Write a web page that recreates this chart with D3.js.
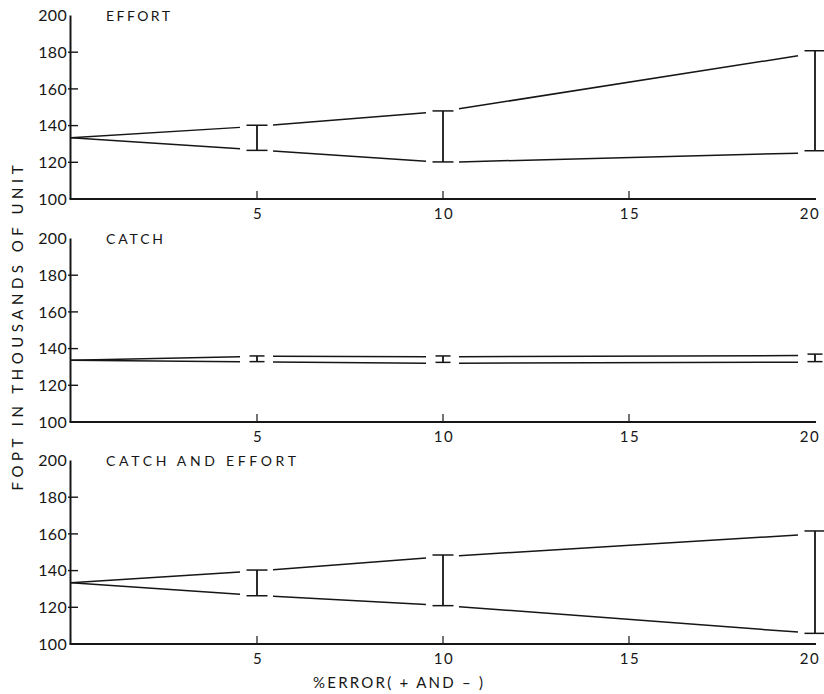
<!DOCTYPE html>
<html>
<head>
<meta charset="utf-8">
<script src="https://cdn.jsdelivr.net/npm/d3@7/dist/d3.min.js"></script>
<style>
  html, body { margin: 0; padding: 0; background: #fff; }
  svg { display: block; }
  text { font-family: Lato, "DejaVu Sans", sans-serif; fill: #161616; }
</style>
</head>
<body>
<svg id="chart" width="824" height="694"></svg>
<script>
// ---------------- data ----------------
const errorPct = [0, 5, 10, 20];            // % error (+ and -)
const xTicks = [5, 10, 15, 20];
const yTicks = [100, 120, 140, 160, 180, 200];
const panelTitles = ["EFFORT", "CATCH", "CATCH AND EFFORT"];

const effortUpper   = [133.4, 139.6, 147.8, 179.5];
const effortLower   = [133.4, 126.8, 120.0, 125.2];
const effortBarLow  = [null, 126.5, 120.2, 126.3];
const effortBarHigh = [null, 140.2, 148.0, 180.8];

const catchUpper    = [133.6, 135.8, 135.6, 136.2];
const catchLower    = [133.6, 132.8, 132.0, 132.6];
const catchBarLow   = [null, 132.9, 132.5, 132.9];
const catchBarHigh  = [null, 136.0, 136.0, 137.0];

const bothUpper     = [133.4, 139.8, 147.6, 160.0];
const bothLower     = [133.4, 126.5, 121.0, 105.8];
const bothBarLow    = [null, 126.3, 120.9, 105.8];
const bothBarHigh   = [null, 140.3, 148.5, 161.6];

const yLabel = "FOPT IN THOUSANDS OF UNIT";
const xLabel = "%ERROR( + AND \u2013 )";

// ---------------- layout ----------------
const svg = d3.select("#chart");
const ink = "#161616";
const x = d3.scaleLinear().domain([0, 20]).range([71, 815]);

const panels = [
  { title: panelTitles[0], base: 199, up: effortUpper, lo: effortLower, bl: effortBarLow, bh: effortBarHigh, cap: 21, titleLen: 64 },
  { title: panelTitles[1], base: 422, up: catchUpper,  lo: catchLower,  bl: catchBarLow,  bh: catchBarHigh,  cap: 15, titleLen: 57 },
  { title: panelTitles[2], base: 644, up: bothUpper,   lo: bothLower,   bl: bothBarLow,   bh: bothBarHigh,   cap: 21, titleLen: 190 }
];

panels.forEach(p => {
  const y = d3.scaleLinear().domain([100, 200]).range([p.base, p.base - 183.5]);
  const g = svg.append("g");

  // y axis line
  g.append("line")
    .attr("x1", x(0) - 0.5).attr("x2", x(0) - 0.5)
    .attr("y1", y(100)).attr("y2", y(200))
    .attr("stroke", ink).attr("stroke-width", 2);
  // x axis line
  g.append("line")
    .attr("x1", x(0) - 1.5).attr("x2", x(20) + 1)
    .attr("y1", y(100)).attr("y2", y(100))
    .attr("stroke", ink).attr("stroke-width", 2);

  // y tick labels
  const yAx = d3.axisLeft(y).tickValues(yTicks).tickSize(0).tickPadding(3).tickFormat(d3.format("d"));
  const ya = g.append("g").attr("transform", `translate(${x(0) - 1},0)`).call(yAx);
  ya.select(".domain").remove();
  ya.selectAll("text").style("font-size", "16px").attr("letter-spacing", "0.3px")
    .style("font-family", "Lato, 'DejaVu Sans', sans-serif").attr("fill", ink);
  // inner y ticks
  g.selectAll(".ytick").data(yTicks.filter(v => v > 100 && v < 200)).enter()
    .append("line")
    .attr("x1", x(0) - 3).attr("x2", x(0) + 7)
    .attr("y1", d => y(d)).attr("y2", d => y(d))
    .attr("stroke", ink).attr("stroke-width", 1.4);

  // x ticks and labels
  g.selectAll(".xtick").data(xTicks.filter(v => v < 20)).enter()
    .append("line")
    .attr("x1", d => x(d)).attr("x2", d => x(d))
    .attr("y1", y(100)).attr("y2", y(100) - 8)
    .attr("stroke", ink).attr("stroke-width", 1.2);
  g.selectAll(".xlab").data(xTicks).enter()
    .append("text")
    .attr("x", d => x(d) + (d === 20 ? -5 : 1))
    .attr("y", y(100) + 19.5)
    .attr("text-anchor", "middle")
    .attr("letter-spacing", "1.5px")
    .style("font-size", "15px")
    .text(d => d);

  // title
  g.append("text")
    .attr("x", 106).attr("y", y(200) + 5)
    .attr("textLength", p.titleLen).attr("lengthAdjust", "spacing")
    .style("font-size", "14px")
    .text(p.title);

  // lines with gaps around error bars
  const gapStart = 16, gapEnd = 17;
  [p.up, p.lo].forEach(series => {
    for (let i = 0; i < errorPct.length - 1; i++) {
      const x0 = x(errorPct[i]), x1 = x(errorPct[i + 1]);
      const v0 = series[i], v1 = series[i + 1];
      const t0 = p.bl[i] == null ? 0 : gapStart / (x1 - x0);
      const t1 = 1 - gapEnd / (x1 - x0);
      const pts = [
        [x0 + (x1 - x0) * t0, y(v0 + (v1 - v0) * t0)],
        [x0 + (x1 - x0) * t1, y(v0 + (v1 - v0) * t1)]
      ];
      g.append("path")
        .attr("d", d3.line()(pts))
        .attr("fill", "none").attr("stroke", ink).attr("stroke-width", 1.5);
    }
  });

  // error bars
  errorPct.forEach((e, i) => {
    if (p.bl[i] == null) return;
    const cx = x(e), yl = y(p.bl[i]), yh = y(p.bh[i]);
    g.append("line").attr("x1", cx).attr("x2", cx).attr("y1", yl).attr("y2", yh)
      .attr("stroke", ink).attr("stroke-width", 1.8);
    [yl, yh].forEach(yy => {
      g.append("line").attr("x1", cx - p.cap / 2).attr("x2", cx + p.cap / 2)
        .attr("y1", yy).attr("y2", yy)
        .attr("stroke", ink).attr("stroke-width", 1.5);
    });
  });
});

// axis titles
svg.append("text")
  .attr("transform", "translate(23,328) rotate(-90)")
  .attr("text-anchor", "middle")
  .attr("textLength", 325).attr("lengthAdjust", "spacing")
  .style("font-size", "15px")
  .text(yLabel);

svg.append("text")
  .attr("x", 313).attr("y", 688)
  .attr("textLength", 170).attr("lengthAdjust", "spacing")
  .style("font-size", "15px")
  .text(xLabel);
</script>
</body>
</html>
